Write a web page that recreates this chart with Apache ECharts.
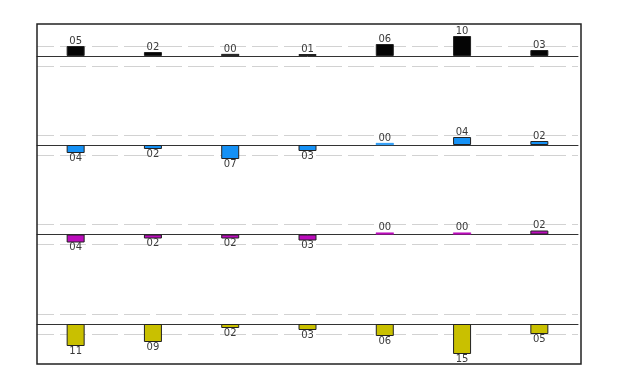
<!DOCTYPE html>
<html>
<head>
<meta charset="utf-8">
<script src="https://cdn.jsdelivr.net/npm/echarts@6/dist/echarts.min.js"></script>
<style>html,body{margin:0;padding:0;background:#fff}#c{width:633px;height:384px}</style>
</head>
<body>
<div id="c"></div>
<script>
const categories = ['1', '2', '3', '4', '5', '6', '7'];
const seriesBlack = [5, 2, 0, 1, 6, 10, 3];
const seriesBlue = [-4, -2, -7, -3, 0, 4, 2];
const seriesMagenta = [-4, -2, -2, -3, 0, 0, 2];
const seriesYellow = [-11, -9, -2, -3, -6, -15, -5];
const yTicks = [-5, 0, 5];

const panels = [
  { data: seriesBlack, color: '#050505', base: 56 },
  { data: seriesBlue, color: '#1591F5', base: 145 },
  { data: seriesMagenta, color: '#BC0CBC', base: 234.5 },
  { data: seriesYellow, color: '#C9C000', base: 324 }
];

const grids = [], xAxes = [], yAxes = [], series = [];
panels.forEach((p, i) => {
  grids.push({ left: 37, width: 541, top: p.base - 10, height: 20, containLabel: false });
  xAxes.push({
    type: 'category', gridIndex: i, data: categories,
    axisLine: { show: true, onZero: true, lineStyle: { color: '#333', width: 1 } },
    axisTick: { show: false }, axisLabel: { show: false }, splitLine: { show: false }
  });
  yAxes.push({
    type: 'value', gridIndex: i, min: yTicks[0], max: yTicks[yTicks.length - 1], interval: 5,
    axisLine: { show: false }, axisTick: { show: false }, axisLabel: { show: false },
    splitLine: { show: true, lineStyle: { color: '#d2d2d2', type: [26, 6], dashOffset: 9, width: 1 } }
  });
  series.push({
    type: 'bar', xAxisIndex: i, yAxisIndex: i, clip: false, barWidth: 18, barMinHeight: 2,
    itemStyle: { color: p.color, borderColor: '#222', borderWidth: 1 },
    data: p.data.map(v => ({
      value: v,
      itemStyle: v === 0 ? { borderColor: p.color, borderWidth: 0.5 } : undefined,
      label: {
        show: true, position: v >= 0 ? 'top' : 'bottom', distance: 0,
        formatter: String(Math.abs(v)).padStart(2, '0'),
        fontFamily: 'DejaVu Sans', fontSize: 10, color: '#3a3a3a'
      }
    })),
    animation: false
  });
});

const chart = echarts.init(document.getElementById('c'), null, { renderer: 'canvas' });
chart.setOption({
  animation: false,
  grid: grids, xAxis: xAxes, yAxis: yAxes, series: series,
  graphic: [{
    type: 'rect', shape: { x: 37, y: 24, width: 544, height: 340 },
    style: { fill: 'none', stroke: '#222', lineWidth: 1.5 }, z: 100, silent: true
  }]
});
</script>
</body>
</html>
